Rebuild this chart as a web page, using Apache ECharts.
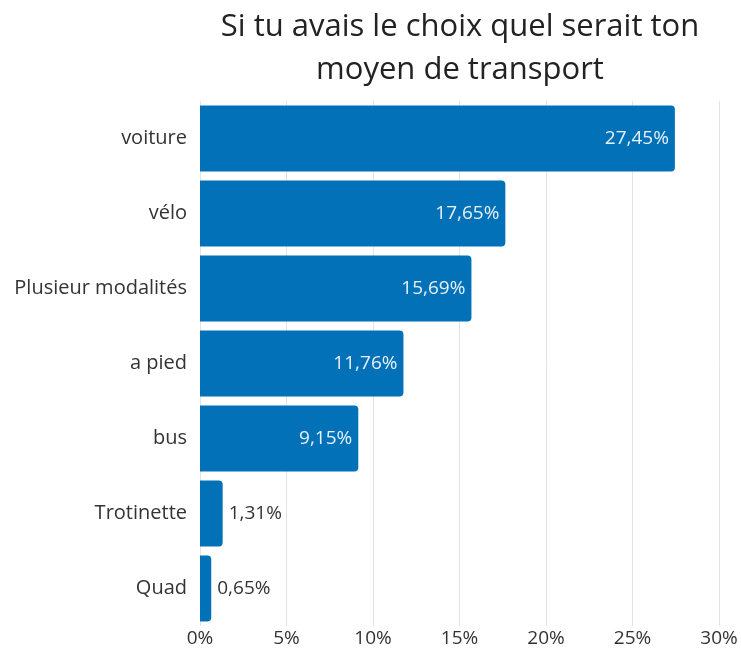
<!DOCTYPE html>
<html>
<head>
<meta charset="utf-8">
<script src="https://cdn.jsdelivr.net/npm/echarts@6/dist/echarts.min.js"></script>
<style>
  html, body { margin: 0; padding: 0; background: #fff; }
  #chart { width: 741px; height: 657px; }
</style>
</head>
<body>
<div id="chart"></div>
<script>
const categories = ['voiture', 'vélo', 'Plusieur modalités', 'a pied', 'bus', 'Trotinette', 'Quad']
const values = [27.45, 17.65, 15.69, 11.76, 9.15, 1.31, 0.65]
const tickLabels = ['0%', '5%', '10%', '15%', '20%', '25%', '30%']

const fmt = function (v) {
  return v.toFixed(2).replace('.', ',') + '%'
}

const myChart = echarts.init(document.getElementById('chart'))
const option = {
  textStyle: { fontFamily: 'Open Sans' },
  title: {
    text: 'Si tu avais le choix quel serait ton\nmoyen de transport',
    left: 455,
    top: 1,
    textAlign: 'center',
    textStyle: {
      fontFamily: 'Open Sans',
      fontSize: 31,
      fontWeight: 'normal',
      color: '#222',
      lineHeight: 43
    }
  },
  grid: {
    left: 200,
    right: 22,
    top: 101,
    bottom: 31
  },
  xAxis: {
    type: 'value',
    min: 0,
    max: 30,
    interval: 5,
    axisLine: { show: false },
    axisTick: { show: false },
    splitLine: { lineStyle: { color: '#e3e3e3', width: 1 } },
    axisLabel: {
      color: '#333',
      fontSize: 19,
      margin: 3,
      formatter: function (v) { return tickLabels[v / 5] }
    }
  },
  yAxis: {
    type: 'category',
    inverse: true,
    data: categories,
    axisLine: { show: false },
    axisTick: { show: false },
    axisLabel: { color: '#333', fontSize: 20, margin: 13 }
  },
  series: [{
    type: 'bar',
    barCategoryGap: '12%',
    itemStyle: { color: '#0271b8', borderRadius: [0, 4, 4, 0] },
    data: values.map(function (v) {
      const inside = v > 5
      return {
        value: v,
        label: {
          show: true,
          position: inside ? 'insideRight' : 'right',
          distance: 6,
          color: inside ? '#e8f0f8' : '#333',
          fontSize: 19,
          formatter: function (p) { return fmt(p.value) }
        }
      }
    })
  }]
}
myChart.setOption(option)
</script>
</body>
</html>
